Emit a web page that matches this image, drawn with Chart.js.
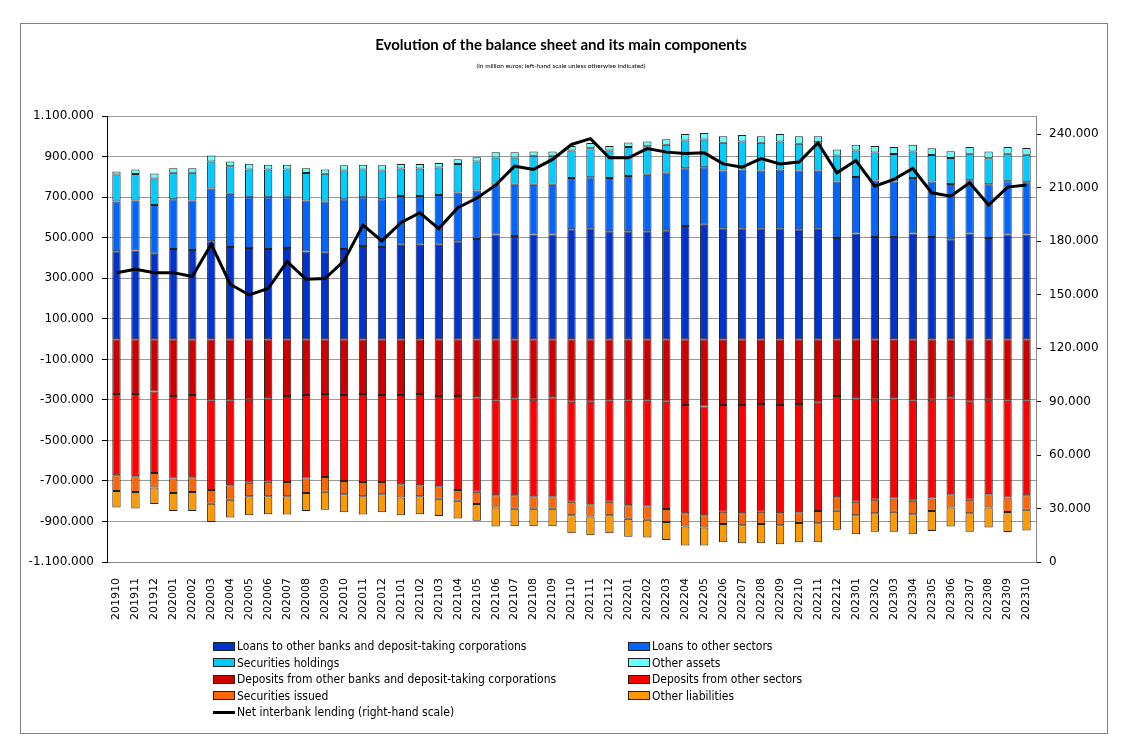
<!DOCTYPE html>
<html>
<head>
<meta charset="utf-8">
<title>Balance sheet</title>
<script src="https://cdn.jsdelivr.net/npm/chart.js@4.4.0/dist/chart.umd.min.js"></script>
<style>
  body { margin: 0; background: #fff; }
  #wrap { position: relative; width: 1122px; height: 754px; }
  #frame { position: absolute; left: 20px; top: 23px; width: 1088px; height: 711px; border: 1px solid #808080; box-sizing: border-box; }
  #balanceChart { position: absolute; left: 0; top: 0; }
  #legend { position: absolute; left: 213px; top: 638px; display: grid; grid-template-columns: 415px 300px;
            font-family: 'DejaVu Sans Condensed', 'DejaVu Sans', sans-serif; font-size: 12px; color: #000; }
  .item { height: 16.5px; line-height: 16.5px; display: flex; align-items: center; white-space: nowrap; }
  .box { width: 20px; height: 7px; border: 1px solid #222; margin-right: 2px; }
  .dash { width: 22px; height: 3px; background: #000; margin-right: 2px; }
</style>
</head>
<body>
<div id="wrap">
  <div id="frame"></div>
  <canvas id="balanceChart" width="1122" height="754"></canvas>
  <div id="legend"></div>
</div>
<script>
const months = ['201910','201911','201912','202001','202002','202003','202004','202005','202006','202007','202008','202009',
  '202010','202011','202012','202101','202102','202103','202104','202105','202106','202107','202108','202109',
  '202110','202111','202112','202201','202202','202203','202204','202205','202206','202207','202208','202209',
  '202210','202211','202212','202301','202302','202303','202304','202305','202306','202307','202308','202309','202310'];

// assets (positive side, million euros)
const loansBanks = [434000,438000,422000,445000,440000,483000,455000,450000,445000,450000,433000,427000,
  445000,460000,455000,466000,466000,466000,483000,494000,516000,509000,516000,516000,
  542000,548000,532000,532000,532000,537000,558000,565000,548000,548000,548000,548000,
  542000,548000,499000,521000,504000,504000,521000,504000,493000,521000,499000,516000,516000];
const loansOther = [246000,246000,240000,245000,245000,261000,263000,250000,255000,250000,251000,253000,
  245000,240000,235000,240000,240000,245000,241000,240000,246000,253000,246000,246000,
  253000,251000,263000,273000,279000,286000,286000,284000,284000,289000,284000,289000,
  291000,284000,279000,279000,279000,274000,274000,274000,273000,263000,266000,263000,259000];
const securitiesHeld = [133000,131000,131000,131000,136000,133000,136000,138000,138000,138000,136000,136000,
  143000,138000,143000,136000,136000,136000,141000,143000,135000,135000,143000,143000,
  136000,143000,136000,143000,141000,136000,136000,136000,138000,138000,138000,138000,
  131000,140000,128000,131000,138000,136000,131000,131000,128000,131000,128000,136000,135000];
const otherAssets = [15000,23000,25000,23000,23000,30000,23000,28000,23000,23000,23000,21000,
  25000,23000,25000,23000,23000,23000,23000,21000,25000,25000,21000,21000,
  23000,26000,23000,23000,23000,28000,33000,33000,31000,33000,31000,38000,
  38000,30000,30000,28000,33000,34000,33000,33000,33000,34000,33000,34000,33000];

// liabilities (negative side)
const depositsBanks = [-271000,-271000,-259000,-281000,-276000,-304000,-304000,-299000,-292000,-281000,-276000,-271000,
  -276000,-271000,-276000,-276000,-271000,-281000,-281000,-287000,-304000,-292000,-299000,-287000,
  -309000,-309000,-304000,-304000,-304000,-309000,-325000,-332000,-325000,-325000,-320000,-325000,
  -320000,-314000,-281000,-292000,-299000,-292000,-304000,-299000,-287000,-309000,-299000,-304000,-304000];
const depositsOther = [-401000,-406000,-402000,-407000,-406000,-440000,-417000,-410000,-412000,-424000,-412000,-410000,
  -424000,-434000,-429000,-440000,-450000,-445000,-463000,-466000,-466000,-478000,-476000,-488000,
  -494000,-506000,-499000,-516000,-522000,-529000,-534000,-537000,-527000,-534000,-532000,-534000,
  -534000,-534000,-499000,-511000,-494000,-494000,-494000,-488000,-478000,-484000,-466000,-478000,-466000];
const securitiesIssued = [-77000,-77000,-71000,-71000,-72000,-69000,-72000,-66000,-71000,-71000,-71000,-72000,
  -66000,-71000,-61000,-66000,-54000,-62000,-54000,-61000,-61000,-67000,-62000,-62000,
  -66000,-61000,-66000,-66000,-66000,-64000,-66000,-61000,-61000,-59000,-61000,-59000,
  -54000,-61000,-67000,-66000,-66000,-66000,-66000,-61000,-66000,-66000,-66000,-71000,-72000];
const otherLiabilities = [-82000,-82000,-82000,-89000,-94000,-89000,-87000,-94000,-89000,-89000,-89000,-89000,
  -89000,-89000,-89000,-87000,-89000,-85000,-87000,-82000,-94000,-87000,-87000,-87000,
  -89000,-92000,-89000,-89000,-87000,-89000,-94000,-89000,-89000,-89000,-94000,-94000,
  -94000,-94000,-94000,-94000,-92000,-99000,-99000,-99000,-94000,-92000,-99000,-99000,-103000];

// right-hand scale
const netInterbank = [162300,164200,162300,162300,160100,178200,155800,149800,153400,168500,158600,159000,
  168900,189000,180100,190300,195900,187000,198700,204000,211400,222000,220200,225800,
  234200,237500,226700,226700,231900,229900,229100,229500,223300,221500,226300,223300,
  224300,235100,218300,225200,210800,214600,220700,207100,205200,212700,200200,210300,211400];

// tick labels of the two value axes
const leftTicks = [-1100000,-900000,-700000,-500000,-300000,-100000,100000,300000,500000,700000,900000,1100000];
const rightTicks = [0,30000,60000,90000,120000,150000,180000,210000,240000];

function fmt(v) {
  return String(v).replace(/\B(?=(\d{3})+(?!\d))/g, '.');
}

function barSet(label, data, color) {
  return {
    label: label,
    data: data,
    backgroundColor: color,
    borderColor: '#222',
    borderWidth: 1,
    borderSkipped: false,
    barPercentage: 0.44,
    categoryPercentage: 1,
    yAxisID: 'y',
    order: 1
  };
}

Chart.defaults.font.family = "'DejaVu Sans', sans-serif";
Chart.defaults.color = '#000';

const ctx = document.getElementById('balanceChart').getContext('2d');
const chart = new Chart(ctx, {
  type: 'bar',
  data: {
    labels: months,
    datasets: [
      barSet('Loans to other banks and deposit-taking corporations', loansBanks, '#0033CC'),
      barSet('Loans to other sectors', loansOther, '#0066FF'),
      barSet('Securities holdings', securitiesHeld, '#00CCFF'),
      barSet('Other assets', otherAssets, '#66FFFF'),
      barSet('Deposits from other banks and deposit-taking corporations', depositsBanks, '#CC0000'),
      barSet('Deposits from other sectors', depositsOther, '#FF0000'),
      barSet('Securities issued', securitiesIssued, '#FF6600'),
      barSet('Other liabilities', otherLiabilities, '#FF9900'),
      {
        type: 'line',
        label: 'Net interbank lending (right-hand scale)',
        data: netInterbank,
        yAxisID: 'y2',
        borderColor: '#000',
        borderWidth: 3,
        pointRadius: 0,
        tension: 0,
        fill: false,
        order: 0
      }
    ]
  },
  options: {
    responsive: false,
    animation: false,
    layout: { padding: 0 },
    plugins: {
      legend: { display: false },
      tooltip: { enabled: false },
      title: {
        display: true,
        text: 'Evolution of the balance sheet and its main components',
        font: { family: 'Lato', size: 15, weight: 'bold' },
        color: '#000',
        padding: { top: 36, bottom: 0 }
      },
      subtitle: {
        display: true,
        text: '(in million euros; left-hand scale unless otherwise indicated)',
        font: { family: 'Lato', size: 6.5 },
        color: '#000',
        padding: { top: 8, bottom: 46.5 }
      }
    },
    scales: {
      x: {
        stacked: true,
        grid: { display: false },
        border: { color: '#888' },
        ticks: { minRotation: 90, maxRotation: 90, autoSkip: false, padding: 8, font: { size: 11 } },
        afterFit: (s) => { s.height = 192; }
      },
      y: {
        stacked: true,
        position: 'left',
        min: -1100000,
        max: 1100000,
        ticks: { padding: 8, font: { size: 12 }, callback: (v) => fmt(v) },
        afterBuildTicks: (s) => { s.ticks = leftTicks.map((v) => ({ value: v })); },
        grid: { color: '#999', tickColor: '#000', tickLength: 5 },
        border: { color: '#000' },
        afterFit: (s) => { s.width = 107; }
      },
      y2: {
        position: 'right',
        min: 0,
        max: 250000,
        ticks: { padding: 8, font: { size: 12 }, callback: (v) => fmt(v) },
        afterBuildTicks: (s) => { s.ticks = rightTicks.map((v) => ({ value: v })); },
        grid: { drawOnChartArea: false, tickColor: '#000', tickLength: 5 },
        border: { color: '#888' },
        afterFit: (s) => { s.width = 86; }
      }
    }
  }
});

// legend in two columns, like the original sheet
const legend = document.getElementById('legend');
chart.data.datasets.forEach((ds) => {
  const item = document.createElement('div');
  item.className = 'item';
  const mark = document.createElement('span');
  if (ds.type === 'line') {
    mark.className = 'dash';
  } else {
    mark.className = 'box';
    mark.style.background = ds.backgroundColor;
  }
  item.appendChild(mark);
  item.appendChild(document.createTextNode(ds.label));
  legend.appendChild(item);
});
</script>
</body>
</html>
